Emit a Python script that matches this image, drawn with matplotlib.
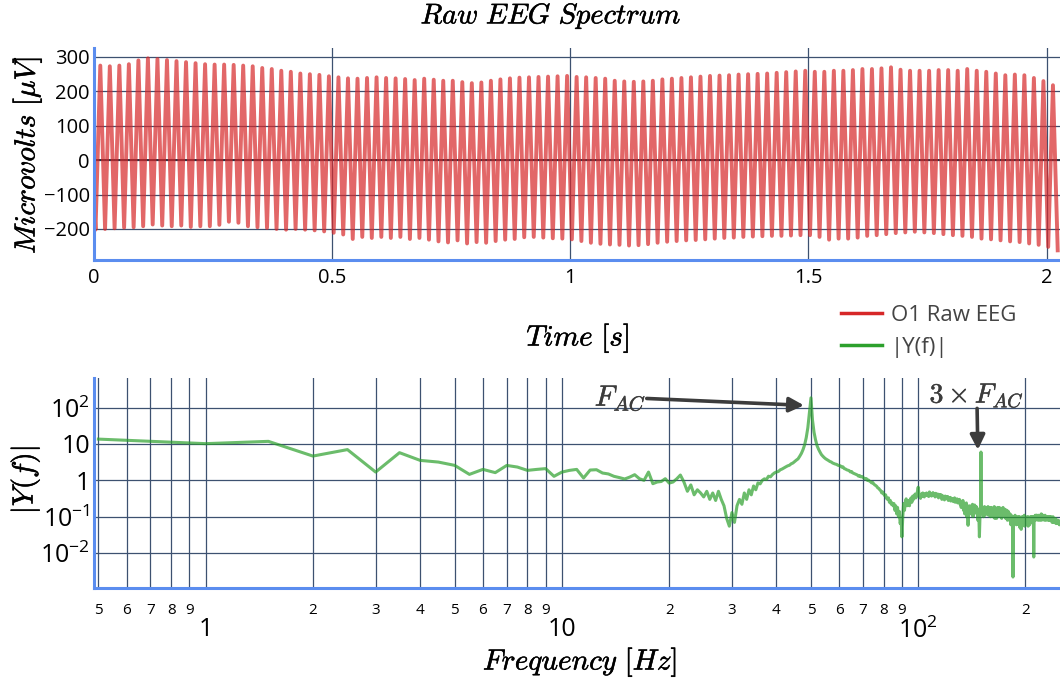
import numpy as np
import matplotlib
matplotlib.use('Agg')
import matplotlib.pyplot as plt
import matplotlib.patheffects as pe
from matplotlib.lines import Line2D
from matplotlib.ticker import FixedLocator, FixedFormatter, NullLocator

plt.rcParams['font.family'] = ['Open Sans', 'DejaVu Sans']
plt.rcParams['mathtext.fontset'] = 'cm'

# --- raw O1 trace: 50 Hz mains hum, one trough / peak per cycle (uV) ---
period = 0.02
t_first_trough = 0.0032
t_first_peak = 0.0132
start_uv = -120
t_end = 2.028

trough_uv = [
    -202, -200, -198, -196, -195, -192, -187, -190, -192, -190,
    -194, -192, -192, -188, -179, -182, -192, -195, -197, -200,
    -202, -200, -202, -204, -207, -211, -216, -229, -223, -226,
    -223, -226, -223, -229, -226, -231, -236, -239, -233, -242,
    -238, -240, -235, -231, -229, -224, -223, -225, -227, -228,
    -230, -235, -240, -243, -245, -246, -248, -247, -244, -240,
    -237, -235, -233, -232, -230, -228, -226, -225, -223, -222,
    -221, -220, -220, -219, -218, -218, -223, -231, -228, -228,
    -225, -220, -218, -215, -212, -210, -208, -210, -212, -215,
    -218, -220, -223, -228, -230, -233, -236, -238, -242, -246,
    -252, -262,
]
peak_uv = [
    274, 272, 274, 278, 289, 295, 293, 290, 287, 284,
    281, 278, 277, 277, 276, 274, 272, 267, 264, 259,
    256, 251, 249, 247, 243, 240, 237, 236, 238, 240,
    238, 237, 235, 232, 236, 233, 230, 230, 226, 223,
    225, 230, 234, 237, 239, 240, 241, 242, 243, 244,
    241, 240, 238, 236, 230, 228, 227, 228, 230, 234,
    236, 238, 240, 242, 244, 245, 246, 248, 249, 250,
    251, 253, 255, 257, 259, 256, 256, 259, 259, 261,
    264, 264, 266, 269, 262, 259, 259, 259, 261, 261,
    259, 264, 259, 256, 251, 246, 248, 246, 238, 229,
    217,
]

# --- |Y(f)|, 0.5 Hz bins from 0.5 to 250 Hz ---
df = 0.5
magnitude = [
    13.6, 10.2, 11.8, 4.65, 7.0, 1.69, 5.76, 3.54, 3.18, 2.58,
    1.46, 2.0, 1.63, 2.57, 2.32, 1.88, 2.0, 2.1, 1.29, 1.69,
    1.88, 2.0, 1.16, 1.92, 1.96, 1.59, 1.5, 1.29, 1.19, 1.09,
    1.23, 1.43, 1.11, 1.0, 1.69, 0.81, 0.9, 0.93, 1.11, 0.84,
    0.9, 1.1, 1.4, 0.9, 0.5, 0.75, 0.4, 0.55, 0.45, 0.35,
    0.5, 0.3, 0.45, 0.28, 0.5, 0.3, 0.2, 0.09, 0.055, 0.13,
    0.07, 0.2, 0.3, 0.22, 0.45, 0.3, 0.55, 0.4, 0.7, 0.55,
    0.85, 0.8, 1.0, 1.1, 1.05, 1.3, 1.25, 1.45, 1.6, 1.7,
    1.75, 1.95, 2.05, 2.2, 2.35, 2.5, 2.6, 2.85, 3.0, 3.3,
    3.6, 3.9, 4.6, 5.5, 7.0, 9.5, 15.0, 28.0, 70.0, 185.0,
    45.0, 21.0, 13.0, 9.0, 7.2, 6.0, 5.1, 4.6, 4.2, 3.9,
    3.7, 3.5, 3.3, 3.2, 3.0, 2.9, 2.8, 2.75, 2.6, 2.55,
    2.5, 2.3, 2.35, 2.1, 2.05, 1.95, 1.9, 1.85, 1.7, 1.75,
    1.6, 1.55, 1.5, 1.45, 1.4, 1.3, 1.35, 1.25, 1.28, 1.2,
    1.15, 1.1, 1.12, 1.0, 1.02, 0.95, 0.92, 0.85, 0.88, 0.8,
    0.75, 0.72, 0.68, 0.62, 0.6, 0.55, 0.52, 0.45, 0.48, 0.42,
    0.38, 0.4, 0.32, 0.3, 0.33, 0.25, 0.28, 0.22, 0.24, 0.2,
    0.23, 0.15, 0.2, 0.12, 0.18, 0.1, 0.14, 0.065, 0.09, 0.028,
    0.1, 0.23, 0.15, 0.25, 0.31, 0.2, 0.28, 0.24, 0.2, 0.3,
    0.33, 0.25, 0.37, 0.3, 0.35, 0.42, 0.33, 0.38, 0.5, 0.65,
    0.4, 0.38, 0.32, 0.42, 0.36, 0.45, 0.4, 0.35, 0.43, 0.39,
    0.45, 0.38, 0.42, 0.36, 0.48, 0.4, 0.44, 0.37, 0.41, 0.46,
    0.39, 0.43, 0.35, 0.44, 0.4, 0.37, 0.42, 0.33, 0.39, 0.41,
    0.36, 0.4, 0.3, 0.38, 0.34, 0.36, 0.29, 0.37, 0.33, 0.35,
    0.31, 0.36, 0.28, 0.33, 0.3, 0.34, 0.27, 0.32, 0.29, 0.31,
    0.26, 0.3, 0.33, 0.25, 0.29, 0.27, 0.31, 0.24, 0.28, 0.26,
    0.3, 0.22, 0.27, 0.18, 0.25, 0.2, 0.28, 0.15, 0.22, 0.12,
    0.2, 0.16, 0.24, 0.1, 0.18, 0.058, 0.15, 0.2, 0.13, 0.18,
    0.12, 0.2, 0.16, 0.22, 0.1, 0.19, 0.14, 0.21, 0.17, 0.13,
    0.19, 0.12, 0.17, 0.08, 0.14, 0.1, 0.028, 0.09, 0.12, 6.0,
    0.13, 0.18, 0.12, 0.17, 0.1, 0.15, 0.19, 0.11, 0.16, 0.13,
    0.18, 0.12, 0.16, 0.19, 0.11, 0.17, 0.14, 0.18, 0.1, 0.15,
    0.18, 0.12, 0.16, 0.1, 0.17, 0.14, 0.19, 0.09, 0.15, 0.13,
    0.17, 0.09, 0.14, 0.18, 0.11, 0.16, 0.13, 0.18, 0.1, 0.15,
    0.12, 0.17, 0.09, 0.16, 0.13, 0.18, 0.11, 0.15, 0.1, 0.14,
    0.16, 0.09, 0.13, 0.11, 0.15, 0.08, 0.12, 0.14, 0.09, 0.12,
    0.08, 0.12, 0.1, 0.06, 0.11, 0.08, 0.09, 0.07, 0.0022, 0.09,
    0.1, 0.07, 0.09, 0.11, 0.08, 0.09, 0.06, 0.1, 0.07, 0.09,
    0.08, 0.1, 0.06, 0.09, 0.1, 0.05, 0.09, 0.07, 0.045, 0.08,
    0.1, 0.07, 0.09, 0.06, 0.1, 0.08, 0.11, 0.055, 0.09, 0.07,
    0.09, 0.06, 0.08, 0.1, 0.07, 0.09, 0.055, 0.1, 0.08, 0.09,
    0.06, 0.09, 0.07, 0.1, 0.08, 0.1, 0.07, 0.09, 0.1, 0.08,
    0.09, 0.0078, 0.08, 0.1, 0.09, 0.11, 0.08, 0.1, 0.11, 0.09,
    0.11, 0.09, 0.1, 0.08, 0.1, 0.11, 0.09, 0.1, 0.08, 0.1,
    0.11, 0.09, 0.12, 0.08, 0.1, 0.11, 0.09, 0.11, 0.1, 0.09,
    0.1, 0.08, 0.1, 0.11, 0.09, 0.1, 0.08, 0.1, 0.09, 0.1,
    0.09, 0.1, 0.08, 0.1, 0.09, 0.1, 0.08, 0.09, 0.1, 0.08,
    0.09, 0.1, 0.08, 0.09, 0.07, 0.09, 0.08, 0.1, 0.07, 0.09,
    0.08, 0.07, 0.09, 0.08, 0.07, 0.09, 0.065, 0.08, 0.07, 0.08,
    0.07, 0.08, 0.065, 0.07, 0.08, 0.065, 0.07, 0.06, 0.07, 0.065,
]

f_ac = 50.0

# build the zigzag trace from the extremes
t_tr = t_first_trough + period * np.arange(len(trough_uv))
t_pk = t_first_peak + period * np.arange(len(peak_uv))
t = np.empty(len(t_tr) + len(t_pk))
v = np.empty_like(t)
t[0::2], v[0::2] = t_tr, trough_uv
t[1::2], v[1::2] = t_pk, peak_uv
t = np.concatenate([[0.0], t])
v = np.concatenate([[start_uv], v])

freqs = df * np.arange(1, len(magnitude) + 1)
mag = np.array(magnitude)

W, H = 1060, 686
fig = plt.figure(figsize=(W / 100, H / 100), dpi=100)

red = '#d62728'
green = '#2ca02c'
axis_blue = '#5b8def'
grid_col = '#3d5170'
ann_col = '#3c3c3c'
heavy = [pe.withStroke(linewidth=0.35, foreground='black')]
heavy_ann = [pe.withStroke(linewidth=0.35, foreground=ann_col)]


def style(ax):
    for s in ['top', 'right']:
        ax.spines[s].set_visible(False)
    for s in ['left', 'bottom']:
        ax.spines[s].set_color(axis_blue)
        ax.spines[s].set_linewidth(2.2)
        ax.spines[s].set_zorder(5)
    ax.set_axisbelow(True)
    ax.tick_params(which='both', length=0, colors='black')


# ---------- top: raw EEG ----------
ax1 = fig.add_axes([94 / W, 1 - 260 / H, 966 / W, 212 / H])
ax1.plot(t, v, color=red, alpha=0.7, lw=2.8, solid_joinstyle='round', zorder=3)
ax1.set_xlim(0, t_end)
ax1.set_ylim(-290, 325)
ax1.set_xticks([0, 0.5, 1, 1.5, 2])
ax1.set_xticklabels(['0', '0.5', '1', '1.5', '2'])
ax1.set_yticks([-200, -100, 0, 100, 200, 300])
ax1.grid(True, color=grid_col, lw=0.9)
ax1.axhline(0, color='#2e3646', lw=1.4, zorder=2)
style(ax1)
ax1.tick_params(axis='x', labelsize=14.5, pad=6)
ax1.tick_params(axis='y', labelsize=14.5, pad=3)

# ---------- bottom: spectrum ----------
ax2 = fig.add_axes([94 / W, 1 - 588 / H, 966 / W, 210 / H])
ax2.set_xscale('log')
ax2.set_yscale('log')
ax2.plot(freqs, mag, color=green, alpha=0.7, lw=2.2, zorder=3)
ax2.set_xlim(0.486, 250)
ax2.set_ylim(1.1e-3, 650)

major_x = [1, 10, 100]
minor_x = [0.5, 0.6, 0.7, 0.8, 0.9, 2, 3, 4, 5, 6, 7, 8, 9,
           20, 30, 40, 50, 60, 70, 80, 90, 200]
ax2.xaxis.set_major_locator(FixedLocator(major_x))
ax2.xaxis.set_major_formatter(FixedFormatter(['1', '10', r'$\mathregular{10^{2}}$']))
ax2.xaxis.set_minor_locator(FixedLocator(minor_x))
ax2.xaxis.set_minor_formatter(FixedFormatter([str(int(round(m / 10 ** np.floor(np.log10(m)))))
                                              for m in minor_x]))
ax2.yaxis.set_major_locator(FixedLocator([1e-2, 1e-1, 1, 10, 100]))
ax2.yaxis.set_major_formatter(FixedFormatter([r'$\mathregular{10^{-2}}$', r'$\mathregular{10^{-1}}$',
                                              '1', '10', r'$\mathregular{10^{2}}$']))
ax2.yaxis.set_minor_locator(NullLocator())
ax2.grid(True, which='both', axis='x', color=grid_col, lw=0.9)
ax2.grid(True, which='major', axis='y', color=grid_col, lw=0.9)
style(ax2)
ax2.tick_params(axis='x', which='minor', labelsize=11, pad=11)
ax2.tick_params(axis='x', which='major', labelsize=18, pad=21)
ax2.tick_params(axis='y', labelsize=18, pad=3)

# annotations
arrow = dict(arrowstyle='-|>', color=ann_col, lw=2.6, mutation_scale=22, shrinkA=0, shrinkB=0)
ax2.annotate('', xy=(47.8, 115), xytext=(17.3, 178), arrowprops=arrow, zorder=6)
ax2.text(14.6, 180, r'$F_{AC}$', fontsize=21, color=ann_col, ha='center', va='center',
         path_effects=heavy_ann)
ax2.annotate('', xy=(147, 6.9), xytext=(146.3, 95), arrowprops=arrow, zorder=6)
ax2.text(146, 212, r'$\mathbf{3}\times F_{AC}$', fontsize=20, color=ann_col,
         ha='center', va='center', path_effects=heavy_ann)

# titles / axis titles
fig.text(551 / W, 1 - 16 / H, r'$Raw\ EEG\ Spectrum$', fontsize=20.5, ha='center', va='center',
         path_effects=heavy)
fig.text(578 / W, 1 - 338 / H, r'$Time\ [s]$', fontsize=21, ha='center', va='center',
         path_effects=heavy)
fig.text(580 / W, 1 - 662 / H, r'$Frequency\ [Hz]$', fontsize=21, ha='center', va='center',
         path_effects=heavy)
fig.text(27 / W, 1 - 155 / H, r'$Microvolts\ [\mu V]$', fontsize=21, ha='center', va='center',
         rotation=90, path_effects=heavy)
fig.text(25 / W, 1 - 480 / H, r'$|Y(f)|$', fontsize=21, ha='center', va='center', rotation=90,
         path_effects=heavy)

# legend
handles = [Line2D([], [], color=red, lw=2.5), Line2D([], [], color=green, lw=2.5)]
fig.legend(handles, ['O1 Raw EEG', '|Y(f)|'], loc='upper left',
           bbox_to_anchor=(832 / W, 1 - 296 / H), frameon=False, fontsize=16,
           handlelength=1.85, handletextpad=0.4, labelspacing=0.5, labelcolor='#444444',
           borderaxespad=0)

fig.savefig('out.png', dpi=100)
